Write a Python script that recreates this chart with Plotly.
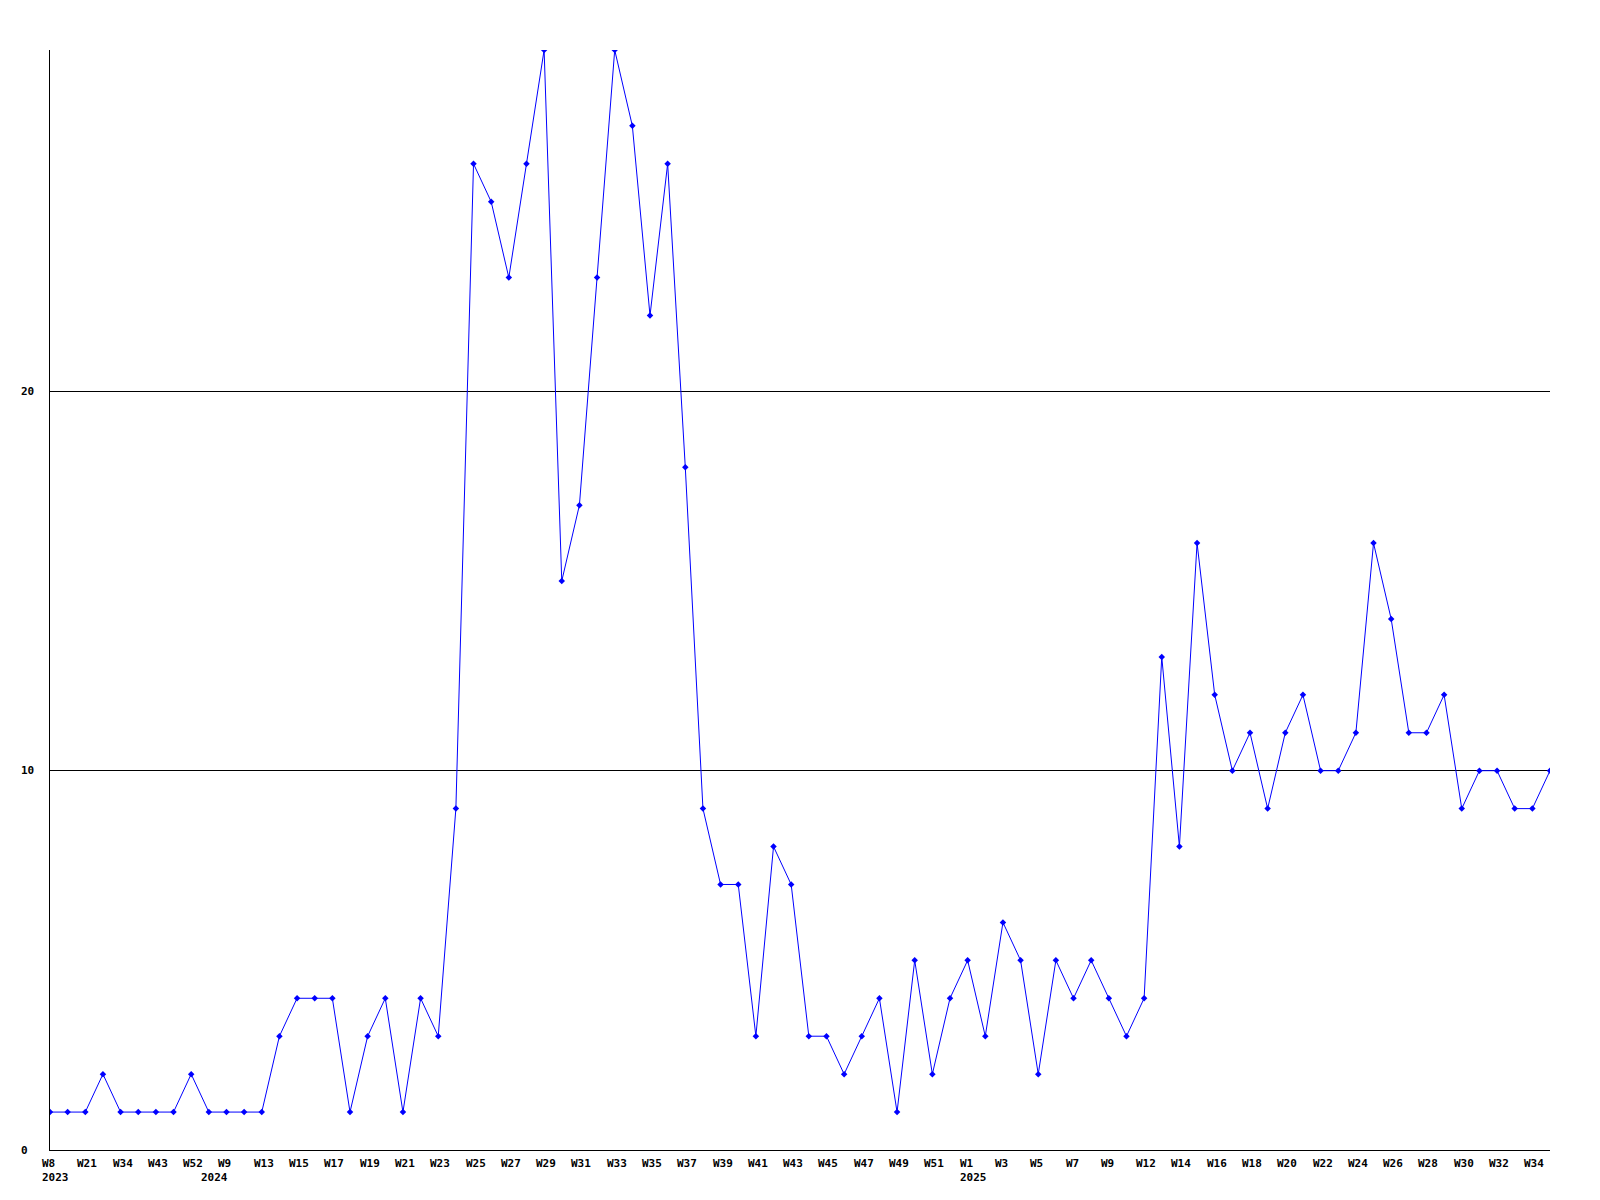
import plotly.graph_objects as go

# Week categories (86 points); only every other one is labelled
weeks = ["W8", "W14", "W21", "W27", "W34", "W38", "W43", "W47", "W52",
         "W4", "W9", "W11"] + [f"W{i}" for i in range(13, 53)] + \
        [f"W{i}" for i in range(1, 10)] + ["W10"] + [f"W{i}" for i in range(12, 36)]
years = ["2023"] * 9 + ["2024"] * 43 + ["2025"] * 34

values = [1, 1, 1, 2, 1, 1, 1, 1, 2, 1, 1, 1, 1, 3, 4, 4, 4, 1, 3, 4,
          1, 4, 3, 9, 26, 25, 23, 26, 29, 15, 17, 23, 29, 27, 22, 26, 18, 9, 7, 7,
          3, 8, 7, 3, 3, 2, 3, 4, 1, 5, 2, 4, 5, 3, 6, 5, 2, 5, 4, 5,
          4, 3, 4, 13, 8, 16, 12, 10, 11, 9, 11, 12, 10, 10, 11, 16, 14, 11, 11, 12,
          9, 10, 10, 9, 9, 10]

y_ticks = [0, 10, 20]

xs = list(range(len(values)))
FONT = dict(family="DejaVu Sans Mono", size=11, color="black")

fig = go.Figure()
fig.add_trace(go.Scatter(
    x=xs, y=values, mode="lines+markers",
    line=dict(color="#0000ff", width=1),
    marker=dict(symbol="diamond", size=5, color="#0000ff"),
    hoverinfo="skip",
))

annotations = []
for i in range(0, len(weeks), 2):
    annotations.append(dict(
        x=i, y=0, xref="x", yref="paper", text=f"<b>{weeks[i]}</b>",
        showarrow=False, xanchor="left", yanchor="top", xshift=-10, yshift=-5,
        font=FONT))
for i in range(len(years)):
    if i == 0 or years[i] != years[i - 1]:
        annotations.append(dict(
            x=i, y=0, xref="x", yref="paper", text=f"<b>{years[i]}</b>",
            showarrow=False, xanchor="left", yanchor="top", xshift=-10, yshift=-19,
            font=FONT))
for v in y_ticks:
    annotations.append(dict(
        x=0, y=v, xref="paper", yref="y", text=f"<b>{v}</b>",
        showarrow=False, xanchor="left", yanchor="middle", xshift=-31,
        font=FONT))

fig.update_layout(
    width=1600, height=1200,
    margin=dict(l=42, r=58, t=42, b=58),
    paper_bgcolor="white", plot_bgcolor="white",
    showlegend=False,
    annotations=annotations,
    xaxis=dict(range=[0, len(values) - 1], showgrid=False, zeroline=False,
               showticklabels=False, ticks="", showline=True, linecolor="black",
               linewidth=1),
    yaxis=dict(range=[0, 29], tickvals=y_ticks, showticklabels=False, ticks="",
               showgrid=True, gridcolor="black", gridwidth=1, zeroline=False,
               showline=True, linecolor="black", linewidth=1),
)

fig.write_html("out.html")
